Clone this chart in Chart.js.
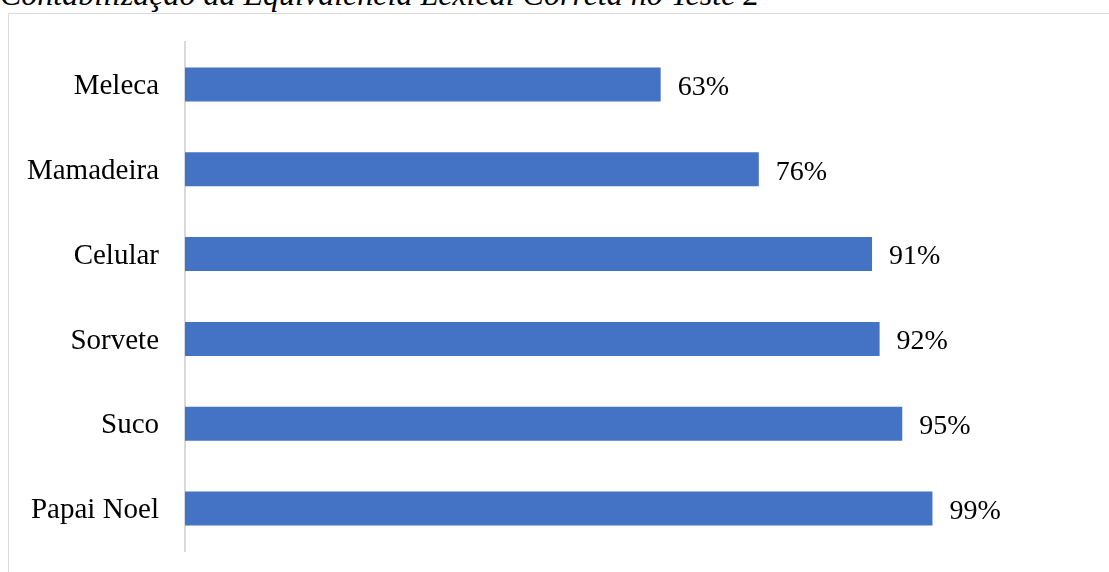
<!DOCTYPE html>
<html>
<head>
<meta charset="utf-8">
<script src="https://cdn.jsdelivr.net/npm/chart.js@4/dist/chart.umd.min.js"></script>
<style>
  body { margin: 0; background: #fff; overflow: hidden; width: 1109px; height: 572px; position: relative; }
  #title {
    position: absolute; left: 0; top: -22px;
    font-family: "Liberation Serif", "Times New Roman", serif;
    font-style: italic; font-size: 32px; line-height: 1; white-space: nowrap; color: #000;
  }
  #box {
    position: absolute; left: 8px; top: 13px; width: 1120px; height: 600px;
    border: 1px solid #d9d9d9; box-sizing: border-box;
  }
  #wrap { position: absolute; left: 9px; top: 14px; width: 1100px; height: 558px; }
</style>
</head>
<body>
<div id="title">Contabilização da Equivalência Lexical Correta no Teste 2</div>
<div id="box"></div>
<div id="wrap"><canvas id="chart"></canvas></div>
<script>
const categories = ["Meleca", "Mamadeira", "Celular", "Sorvete", "Suco", "Papai Noel"];
const values = [0.63, 0.76, 0.91, 0.92, 0.95, 0.99];

// rótulos de valor ao lado das barras
const valueLabels = {
  id: "valueLabels",
  afterDatasetsDraw(chart) {
    const ctx = chart.ctx;
    const meta = chart.getDatasetMeta(0);
    ctx.save();
    ctx.font = "28px 'Liberation Serif', 'Times New Roman', serif";
    ctx.fillStyle = "#000";
    ctx.textAlign = "left";
    ctx.textBaseline = "middle";
    meta.data.forEach(function (bar, i) {
      ctx.fillText(Math.round(values[i] * 100) + "%", bar.x + 17, bar.y + 3);
    });
    ctx.restore();
  },
};

new Chart(document.getElementById("chart"), {
  type: "bar",
  data: {
    labels: categories,
    datasets: [
      {
        data: values,
        backgroundColor: "#4472C4",
        borderWidth: 0,
        barPercentage: 0.4,
        categoryPercentage: 1,
      },
    ],
  },
  options: {
    indexAxis: "y",
    responsive: true,
    maintainAspectRatio: false,
    animation: false,
    layout: { padding: { top: 28, bottom: 21, right: 169, left: 0 } },
    plugins: { legend: { display: false }, tooltip: { enabled: false } },
    scales: {
      x: { display: false, min: 0, max: 1 },
      y: {
        grid: { display: false, drawTicks: false },
        border: { display: true, color: "#d9d9d9", width: 2 },
        ticks: {
          color: "#000",
          padding: 26,
          labelOffset: 2,
          font: { family: "'Liberation Serif', 'Times New Roman', serif", size: 29 },
        },
        afterFit(axis) {
          axis.width = 176;
          axis.paddingTop = 0;
          axis.paddingBottom = 0;
        },
      },
    },
  },
  plugins: [valueLabels],
});
</script>
</body>
</html>
